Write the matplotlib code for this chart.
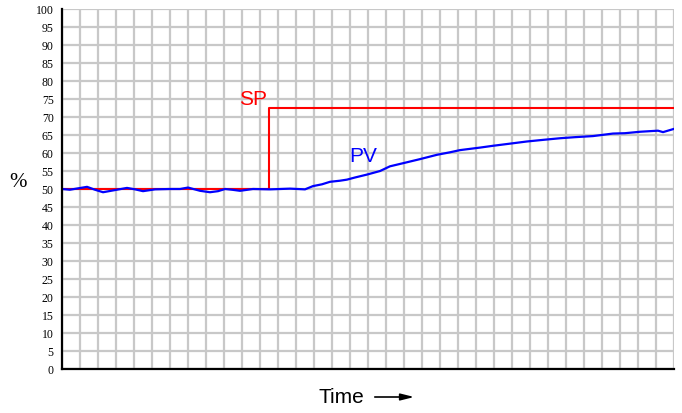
import matplotlib
matplotlib.use("Agg")
from matplotlib import pyplot as plt
import numpy as np

# setpoint (step change)
sp_t = [0, 11.5, 11.5, 34]
sp_val = [50, 50, 72.5, 72.5]

# process variable (time in grid units)
pv_t = [0, 0.44, 1.39, 1.83, 2.28, 2.94, 3.61, 4.06, 4.5, 5.17, 6.0, 6.56, 7.0,
        7.67, 8.22, 8.67, 9.06, 9.44, 9.89, 10.61, 11.56, 12.67, 13.5, 13.94,
        14.44, 14.89, 15.44, 15.83, 16.28, 16.94, 17.67, 18.22, 19.06, 19.89,
        20.83, 21.56, 22.11, 23.22, 23.94, 24.89, 25.83, 26.83, 27.67, 28.5,
        29.5, 30.61, 31.28, 32.11, 33.11, 33.39, 34.0]
pv_val = [50.0, 49.8, 50.6, 49.8, 49.1, 49.7, 50.3, 49.9, 49.4, 49.9, 50.0, 50.0,
          50.4, 49.5, 49.1, 49.4, 50.0, 49.8, 49.5, 50.0, 49.9, 50.1, 49.9, 50.8,
          51.3, 52.0, 52.3, 52.6, 53.2, 54.0, 55.0, 56.3, 57.3, 58.3, 59.5, 60.2,
          60.8, 61.5, 62.0, 62.6, 63.2, 63.7, 64.1, 64.4, 64.7, 65.4, 65.5, 65.9,
          66.2, 65.8, 66.7]

y_ticks = list(range(0, 101, 5))

fig = plt.figure(figsize=(6.82, 4.14), dpi=100)
ax = fig.add_axes([62 / 682, 44 / 414, 612 / 682, 360 / 414])

ax.set_xlim(0, 34)
ax.set_ylim(0, 100)
ax.set_xticks(np.arange(0, 35, 1))
ax.set_yticks(y_ticks)
ax.set_xticklabels([])
ax.set_yticklabels([str(v) for v in y_ticks], family="Liberation Serif", fontsize=8.5)
ax.tick_params(length=0, pad=6)
ax.grid(True, color="#c8c8c8", linewidth=1.6)
ax.set_axisbelow(True)
for side in ["top", "right"]:
    ax.spines[side].set_visible(False)
for side in ["left", "bottom"]:
    ax.spines[side].set_linewidth(1.6)
    ax.spines[side].set_zorder(5)

ax.plot(sp_t, sp_val, color="#ff0000", linewidth=1.5, zorder=3)
ax.plot(pv_t, pv_val, color="#0000ff", linewidth=1.6, zorder=4)

ax.text(9.85, 75, "SP", color="#ff0000", fontsize=15, family="Liberation Sans",
        ha="left", va="center")
ax.text(15.95, 59.2, "PV", color="#0000ff", fontsize=15, family="Liberation Sans",
        ha="left", va="center")

fig.text(18 / 682, 1 - 183 / 414, "%", family="Liberation Serif", fontsize=15,
         ha="center", va="center")
fig.text(341 / 682, 1 - 398 / 414, "Time", family="Liberation Sans", fontsize=15,
         ha="center", va="center")
ax.annotate("", xy=(417, 16), xycoords="figure pixels",
            xytext=(372, 16), textcoords="figure pixels",
            arrowprops=dict(arrowstyle="-|>,head_length=0.8,head_width=0.2",
                            color="black", linewidth=1.2))

fig.savefig("out.png", dpi=100)
